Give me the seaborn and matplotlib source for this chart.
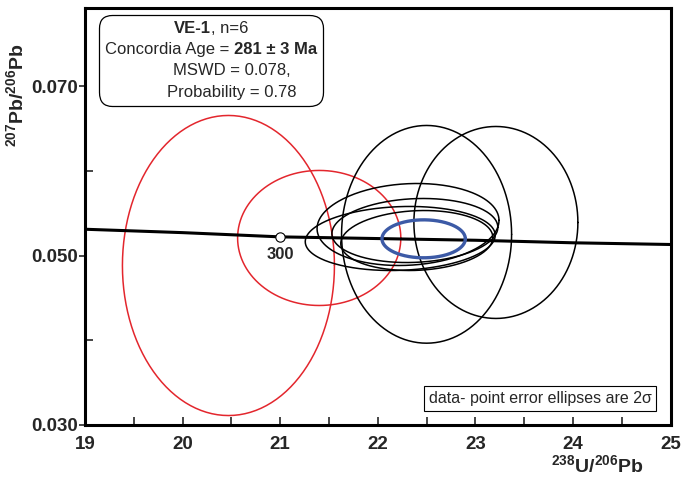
import numpy as np
import pandas as pd
import matplotlib
matplotlib.use("Agg")
import matplotlib.pyplot as plt
import seaborn as sns
from matplotlib.offsetbox import TextArea, HPacker, VPacker, AnchoredOffsetbox, DrawingArea
from matplotlib.ticker import MultipleLocator, FixedLocator, FormatStrFormatter

# concordia curve
conc_x = [19, 20, 21, 22, 23, 24, 25]
conc_y = [0.0531, 0.0527, 0.0522, 0.0520, 0.0518, 0.0515, 0.0513]

# age marker on the concordia
mark_x = [21.0]
mark_y = [0.0522]
mark_label = ["300"]

# data-point ellipses: centre, 2 sigma half axes, correlation
ell_name = ["r1", "r2", "b1", "b2", "f1", "f2", "f3", "f4"]
ell_kind = ["rejected", "rejected", "used", "used", "used", "used", "used", "used"]
ell_x = [20.47, 21.40, 22.50, 23.21, 22.23, 22.31, 22.38, 22.40]
ell_y = [0.04882, 0.05207, 0.05250, 0.05390, 0.05201, 0.05366, 0.05295, 0.05177]
ell_sx = [1.086, 0.836, 0.871, 0.840, 0.973, 0.932, 0.850, 0.779]
ell_sy = [0.01771, 0.00797, 0.01285, 0.01133, 0.00378, 0.00484, 0.00378, 0.00354]
ell_rho = [0.0, 0.0, 0.0, 0.0, 0.1, 0.1, 0.1, 0.1]

# concordia age ellipse
age_x = [22.47]
age_y = [0.05197]
age_sx = [0.427]
age_sy = [0.00224]

# axis ticks
y_major = [0.030, 0.050, 0.070]
y_minor = [0.040, 0.060]

sns.set_style("ticks")
plt.rcParams['font.family'] = ['Liberation Sans', 'DejaVu Sans']
plt.rcParams['mathtext.fontset'] = 'custom'
plt.rcParams['mathtext.rm'] = 'Liberation Sans'
plt.rcParams['mathtext.bf'] = 'Liberation Sans:bold'


def outline(names, kinds, xs, ys, sxs, sys_, rhos):
    t = np.linspace(0, 2 * np.pi, 241)
    rows = []
    for n, k, cx, cy, sx, sy, r in zip(names, kinds, xs, ys, sxs, sys_, rhos):
        ex = cx + sx * np.cos(t)
        ey = cy + sy * (r * np.cos(t) + np.sqrt(1 - r * r) * np.sin(t))
        rows.append(pd.DataFrame({'x': ex, 'y': ey, 'name': n, 'kind': k}))
    return pd.concat(rows, ignore_index=True)


df_ell = outline(ell_name, ell_kind, ell_x, ell_y, ell_sx, ell_sy, ell_rho)
df_age = outline(["age"], ["age"], age_x, age_y, age_sx, age_sy, [0.0])
df_conc = pd.DataFrame({'x': conc_x, 'y': conc_y})

fig = plt.figure(figsize=(6.85, 4.78), dpi=100)
ax = fig.add_axes([0.124, 0.111, 0.855, 0.872])

sns.lineplot(data=df_ell, x='x', y='y', units='name', hue='kind', estimator=None, sort=False,
             palette={'rejected': '#e3262d', 'used': 'black'}, linewidth=1.1, legend=False, ax=ax)
sns.lineplot(data=df_conc, x='x', y='y', color='black', linewidth=2.2, ax=ax)
sns.lineplot(data=df_age, x='x', y='y', units='name', estimator=None, sort=False,
             color='#3c5aa6', linewidth=2.4, ax=ax)
ax.scatter(mark_x, mark_y, s=45, marker='o', facecolor='white', edgecolor='black',
           linewidth=0.8, zorder=5)
for mx, my, ml in zip(mark_x, mark_y, mark_label):
    ax.annotate(ml, (mx, my), xytext=(0, -7), textcoords='offset points', ha='center', va='top',
                fontsize=12, fontweight='bold')

ax.set_xlim(19, 25)
ax.set_ylim(0.030, 0.0792)
ax.xaxis.set_major_locator(MultipleLocator(1))
ax.xaxis.set_minor_locator(MultipleLocator(0.5))
ax.yaxis.set_major_locator(FixedLocator(y_major))
ax.yaxis.set_minor_locator(FixedLocator(y_minor))
ax.yaxis.set_major_formatter(FormatStrFormatter('%.3f'))

ax.tick_params(axis='x', which='both', direction='in', length=6, width=1.2, pad=8)
ax.tick_params(axis='y', which='major', direction='out', length=4, width=1.2, pad=1)
ax.tick_params(axis='y', which='minor', direction='in', length=6, width=1.2)
for lab in ax.get_xticklabels() + ax.get_yticklabels():
    lab.set_fontweight('bold')
    lab.set_fontsize(13.5)

for side in ['left', 'bottom', 'top', 'right']:
    ax.spines[side].set_linewidth(2.2)
    ax.spines[side].set_color('black')

ax.set_xlabel(r'$\mathbf{^{238}U/^{206}Pb}$', fontsize=14)
ax.xaxis.set_label_coords(0.875, -0.07)
ax.set_ylabel(r'$\mathbf{^{207}Pb/^{206}Pb}$', fontsize=14)
ax.yaxis.set_label_coords(-0.098, 0.79)

# summary box
fs = 12
line1 = HPacker(children=[TextArea("VE-1", textprops=dict(fontsize=fs, fontweight='bold')),
                          TextArea(", n=6", textprops=dict(fontsize=fs))], pad=0, sep=0)
line2 = HPacker(children=[TextArea("Concordia Age = ", textprops=dict(fontsize=fs)),
                          TextArea("281 \u00b1 3 Ma", textprops=dict(fontsize=fs, fontweight='bold'))],
                pad=0, sep=0)
line3 = HPacker(children=[DrawingArea(30, 1), TextArea("MSWD = 0.078,", textprops=dict(fontsize=fs))],
                pad=0, sep=0)
line4 = HPacker(children=[DrawingArea(30, 1), TextArea("Probability = 0.78", textprops=dict(fontsize=fs))],
                pad=0, sep=0)
box = VPacker(children=[line1, line2, line3, line4], align='center', pad=0, sep=4.5)
anch = AnchoredOffsetbox(loc='upper left', child=box, pad=0.25, frameon=True,
                         bbox_to_anchor=(0.028, 0.978), bbox_transform=ax.transAxes, borderpad=0)
anch.patch.set_boxstyle("round,pad=0.2,rounding_size=1.0")
anch.patch.set_linewidth(0.9)
anch.patch.set_edgecolor('black')
ax.add_artist(anch)

ax.text(0.967, 0.064, "data- point error ellipses are 2\u03c3", transform=ax.transAxes,
        ha='right', va='center', fontsize=11.5,
        bbox=dict(boxstyle='square,pad=0.3', facecolor='white', edgecolor='black', linewidth=0.8))

fig.savefig("out.png", dpi=100)
plt.close(fig)
